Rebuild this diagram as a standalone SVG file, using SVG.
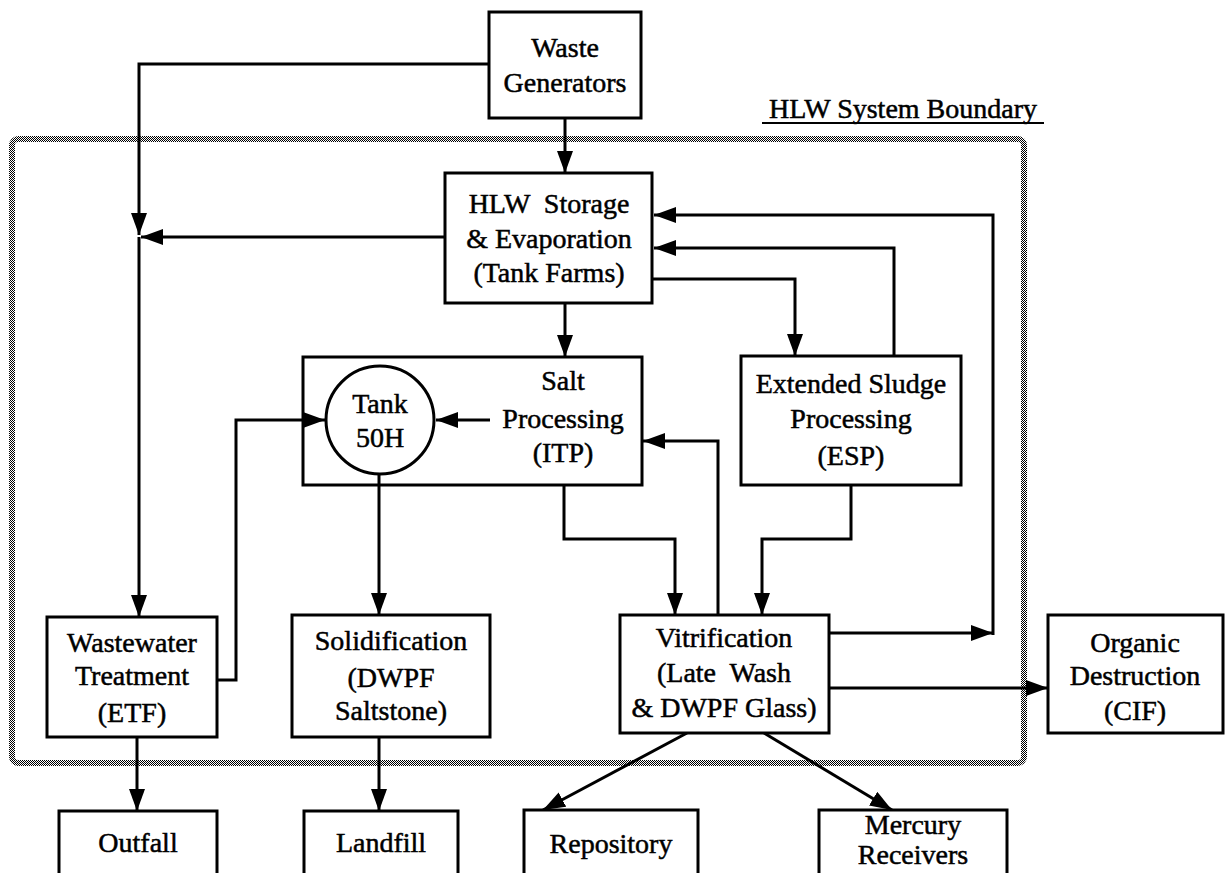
<svg xmlns="http://www.w3.org/2000/svg" width="1227" height="873" viewBox="0 0 1227 873">
  <defs>
    <style>
      .box { fill: #fff; stroke: #000; stroke-width: 3; }
      .lbl { font-family: "Liberation Serif", "Times New Roman", serif; font-size: 28px; fill: #000; text-anchor: middle; stroke: #000; stroke-width: 0.5; }
      .wire { fill: none; stroke: #000; stroke-width: 3; }
      .flow { fill: none; stroke: #000; stroke-width: 3; marker-end: url(#head); }
    </style>
    <marker id="head" markerUnits="userSpaceOnUse" markerWidth="24" markerHeight="18" refX="22" refY="8" orient="auto">
      <path d="M0,0 L22,8 L0,16 Z" fill="#000"/>
    </marker>
    <!-- halftone dither for the system boundary -->
    <pattern id="dither" patternUnits="userSpaceOnUse" width="2" height="2">
      <rect width="2" height="2" fill="#fff"/>
      <rect x="0" y="0" width="1" height="1" fill="#000"/>
      <rect x="1" y="1" width="1" height="1" fill="#000"/>
    </pattern>
  </defs>
  <rect width="1227" height="873" fill="#fff"/>

  <!-- HLW system boundary -->
  <g id="boundary">
    <rect x="12" y="139" width="1012" height="624" rx="6" fill="none" stroke="url(#dither)" stroke-width="6"/>
    <text class="lbl" x="903" y="118">HLW System Boundary</text>
    <line x1="762" y1="123" x2="1044" y2="123" stroke="#000" stroke-width="2"/>
  </g>

  <!-- connectors -->
  <g id="connectors">
    <path class="flow" d="M489,64 H139 V235"/>
    <path class="flow" d="M445,237 H141"/>
    <path class="flow" d="M139,237 V617"/>
    <path class="flow" d="M565,118 V173"/>
    <path class="flow" d="M565,303 V357"/>
    <path class="flow" d="M652,279 H795 V356"/>
    <path class="flow" d="M894,356 V248 H654"/>
    <path class="flow" d="M829,633 H993"/>
    <path class="flow" d="M993,635 V215 H654"/>
    <path class="flow" d="M490,420 H436"/>
    <path class="flow" d="M217,680 H236 V420 H325"/>
    <path class="flow" d="M379,474 V615"/>
    <path class="flow" d="M564,485 V539 H675 V615"/>
    <path class="flow" d="M851,485 V539 H762 V615"/>
    <path class="flow" d="M718,615 V441 H643"/>
    <path class="flow" d="M829,688 H1048"/>
    <path class="flow" d="M137,737 V811"/>
    <path class="flow" d="M379,737 V811"/>
    <path class="flow" d="M687,733 L543,810"/>
    <path class="flow" d="M764,733 L892,810"/>
  </g>

  <g id="waste-generators">
    <rect class="box" x="489" y="12" width="152" height="106"/>
    <text class="lbl" x="565" y="57">Waste</text>
    <text class="lbl" x="565" y="92">Generators</text>
  </g>

  <g id="hlw-storage">
    <rect class="box" x="445" y="173" width="207" height="130"/>
    <text class="lbl" x="549" y="213" xml:space="preserve">HLW  Storage</text>
    <text class="lbl" x="549" y="248">&amp; Evaporation</text>
    <text class="lbl" x="549" y="282">(Tank Farms)</text>
  </g>

  <g id="salt-processing">
    <rect class="wire" x="303" y="357" width="339" height="128"/>
    <text class="lbl" x="563" y="390">Salt</text>
    <text class="lbl" x="563" y="428">Processing</text>
    <text class="lbl" x="563" y="462">(ITP)</text>
  </g>

  <g id="tank-50h">
    <circle class="box" cx="380" cy="420" r="54"/>
    <text class="lbl" x="380" y="413">Tank</text>
    <text class="lbl" x="380" y="447">50H</text>
  </g>

  <g id="esp">
    <rect class="box" x="741" y="356" width="220" height="129"/>
    <text class="lbl" x="851" y="393">Extended Sludge</text>
    <text class="lbl" x="851" y="428">Processing</text>
    <text class="lbl" x="851" y="465">(ESP)</text>
  </g>

  <g id="wastewater">
    <rect class="box" x="47" y="617" width="170" height="120"/>
    <text class="lbl" x="132" y="652">Wastewater</text>
    <text class="lbl" x="132" y="685">Treatment</text>
    <text class="lbl" x="132" y="722">(ETF)</text>
  </g>

  <g id="solidification">
    <rect class="box" x="292" y="615" width="198" height="122"/>
    <text class="lbl" x="391" y="650">Solidification</text>
    <text class="lbl" x="391" y="687">(DWPF</text>
    <text class="lbl" x="391" y="720">Saltstone)</text>
  </g>

  <g id="vitrification">
    <rect class="box" x="620" y="615" width="209" height="118"/>
    <text class="lbl" x="724" y="647">Vitrification</text>
    <text class="lbl" x="724" y="682" xml:space="preserve">(Late  Wash</text>
    <text class="lbl" x="724" y="717">&amp; DWPF Glass)</text>
  </g>

  <g id="organic-destruction">
    <rect class="box" x="1048" y="615" width="175" height="118"/>
    <text class="lbl" x="1135" y="652">Organic</text>
    <text class="lbl" x="1135" y="685">Destruction</text>
    <text class="lbl" x="1135" y="720">(CIF)</text>
  </g>

  <g id="outfall">
    <rect class="box" x="59" y="811" width="158" height="80"/>
    <text class="lbl" x="138" y="852">Outfall</text>
  </g>

  <g id="landfill">
    <rect class="box" x="304" y="811" width="154" height="80"/>
    <text class="lbl" x="381" y="852">Landfill</text>
  </g>

  <g id="repository">
    <rect class="box" x="524" y="810" width="174" height="80"/>
    <text class="lbl" x="611" y="853">Repository</text>
  </g>

  <g id="mercury-receivers">
    <rect class="box" x="819" y="810" width="188" height="80"/>
    <text class="lbl" x="913" y="834">Mercury</text>
    <text class="lbl" x="913" y="864">Receivers</text>
  </g>
</svg>
